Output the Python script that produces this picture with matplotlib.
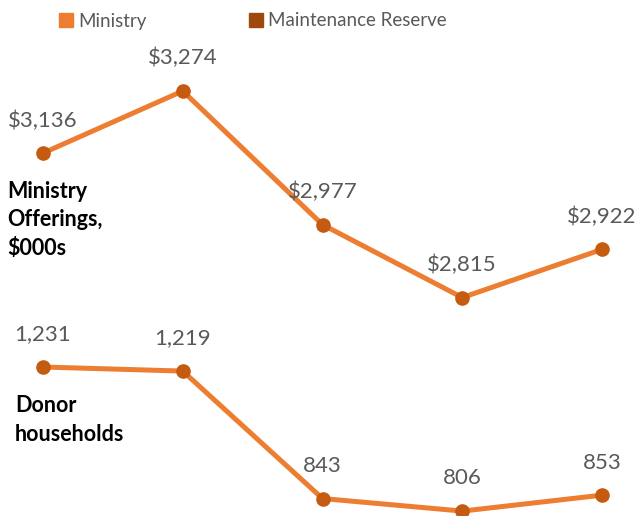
import matplotlib
matplotlib.use('Agg')
import matplotlib.pyplot as plt
from matplotlib.lines import Line2D

plt.rcParams['font.family'] = ['Lato', 'DejaVu Sans']

years = [0, 1, 2, 3, 4]
offerings = [3136, 3274, 2977, 2815, 2922]          # $000s
offering_labels = ['$3,136', '$3,274', '$2,977', '$2,815', '$2,922']
households = [1231, 1219, 843, 806, 853]
household_labels = ['1,231', '1,219', '843', '806', '853']

line_col = '#ED7D31'
marker_col = '#C55A11'
reserve_col = '#9E480E'
label_col = '#595959'

fig = plt.figure(figsize=(6.37, 5.16), dpi=100)
pos = [43 / 637, 0, (602 - 43) / 637, 1]
ax1 = fig.add_axes(pos)
ax2 = fig.add_axes(pos)

for ax, vals, labs, ylim in [(ax1, offerings, offering_labels, (2329.6, 3476.2)),
                             (ax2, households, household_labels, (791.5, 2313.6))]:
    ax.plot(years, vals, color=line_col, lw=3.6, marker='o', ms=9.5,
            mfc=marker_col, mec=marker_col, clip_on=False, zorder=3)
    for x, v, t in zip(years, vals, labs):
        ax.annotate(t, (x, v), xytext=(0, 23.5), textcoords='offset points',
                    ha='center', va='center', fontsize=16, color=label_col)
    ax.set_xlim(0, 4)
    ax.set_ylim(*ylim)
    ax.axis('off')

fig.text(7 / 637, 1 - 220 / 516, 'Ministry\nOfferings,\n$000s', ha='left', va='center',
         fontsize=15.5, fontweight='bold', color='black', linespacing=1.42)
fig.text(15 / 637, 1 - 420 / 516, 'Donor\nhouseholds', ha='left', va='center',
         fontsize=15.5, fontweight='bold', color='black', linespacing=1.42)

handles = [Line2D([], [], ls='none', marker='s', ms=9.5, mfc=line_col, mec=line_col),
           Line2D([], [], ls='none', marker='s', ms=9.5, mfc=reserve_col, mec=reserve_col)]
fig.legend(handles, ['Ministry', 'Maintenance Reserve'], loc='center',
           bbox_to_anchor=(253 / 637, 1 - 21 / 516), ncol=2, frameon=False,
           fontsize=13.5, labelcolor=label_col, handlelength=0.7, handletextpad=0.3,
           columnspacing=5.5, borderpad=0)

fig.savefig('out.png', dpi=100)
